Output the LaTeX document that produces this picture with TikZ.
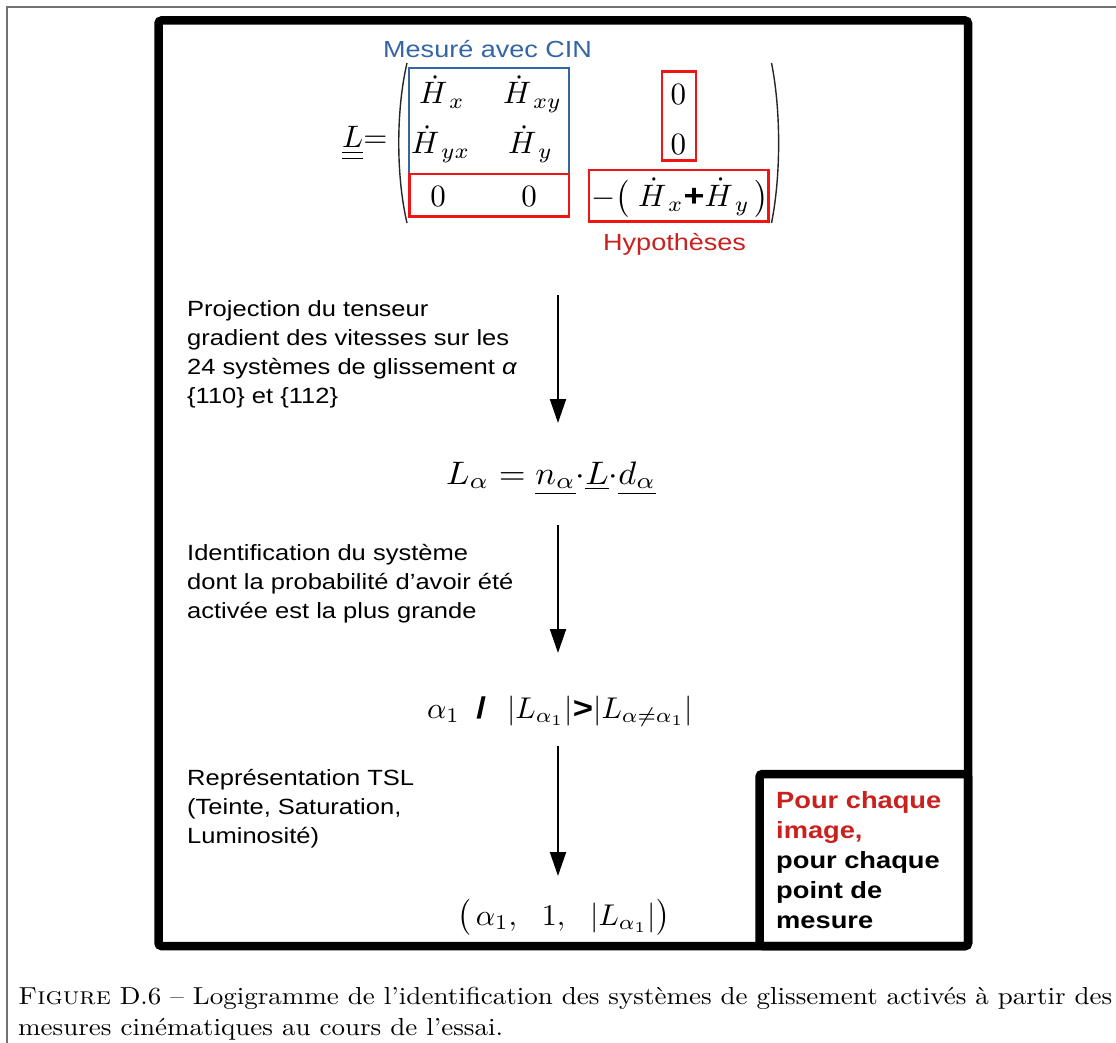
\documentclass[tikz,border=0pt]{standalone}
\usepackage{fontspec}
\usepackage{amsmath}
\usepackage{graphicx}
\usetikzlibrary{arrows.meta}
\newfontfamily\sansf[FakeStretch=1.16]{Liberation Sans}
\definecolor{cinblue}{RGB}{52,101,164}
\definecolor{hypred}{RGB}{201,33,30}
\definecolor{boxred}{RGB}{240,20,20}
\newcommand\txtblock[1]{\begin{tabular}[t]{@{}l@{}}#1\end{tabular}}
\newcommand\bigmath[2][3]{\scalebox{#1}{#2}}
\tikzset{
  frame/.style={line width=8.5pt, rounded corners=3pt},
  sidetext/.style={anchor=base west, inner sep=0pt, font=\sansf\fontsize{22}{29}\selectfont},
  mathtxt/.style={inner sep=0pt, font=\fontsize{10}{12}\selectfont},
  bluebox/.style={draw=cinblue, line width=2pt},
  redbox/.style={draw=boxred, line width=2.4pt},
  arr/.style={line width=2pt, -{Triangle[length=24pt,width=16pt]}},
  paren/.style={line width=1.4pt, black!85}
}
\begin{document}
\begin{tikzpicture}[x=1pt,y=-1pt]
\useasboundingbox (0,0) rectangle (1116,1043);
\fill[white] (0,0) rectangle (1116,1043);
% outer thin frame
\draw[black!55, line width=1.5pt] (7,1043) -- (7,7) -- (1116,7);
% main frame and corner box
\draw[frame] (158.5,20.5) rectangle (968,946);
\draw[frame] (759.5,774) rectangle (968,946);
\node[anchor=base west, inner sep=0pt, font=\sansf\bfseries\fontsize{23.5}{30}\selectfont] (pour) at (776,808)
  {\txtblock{\textcolor{hypred}{Pour chaque}\\ \textcolor{hypred}{image,}\\ pour chaque\\ point de\\ mesure}};

% matrix annotations
\node[anchor=base west, inner sep=0pt, text=cinblue, font=\sansf\fontsize{23.3}{28}\selectfont] (cin) at (383,58) {Mesuré avec CIN};
\node[anchor=base west, inner sep=0pt, text=hypred, font=\sansf\fontsize{23.3}{28}\selectfont] (hyp) at (603,250) {Hypothèses};
\draw[bluebox] (409.3,67.7) rectangle (568.7,174);
\draw[redbox] (409.3,174) rectangle (568.7,216.7);
\draw[redbox] (661.7,71.7) rectangle (696,160.7);
\draw[redbox] (589,170) rectangle (768.3,221.7);
% parentheses
\draw[paren] (407,63) .. controls (396,110) and (396,176) .. (407,223);
\draw[paren] (771.5,63) .. controls (781,110) and (781,176) .. (771.5,223);
% matrix
\node[mathtxt, anchor=base west] (Lmat) at (342,148) {\bigmath[3.1]{${\underline{\underline{L}}}{=}$}};
\node[mathtxt, anchor=base west] (m11) at (419,104) {\bigmath[3.1]{$\dot H_{\,x}$}};
\node[mathtxt, anchor=base west] (m12) at (503,104) {\bigmath[3.1]{$\dot H_{\,xy}$}};
\node[mathtxt, anchor=base west] (m21) at (411,154) {\bigmath[3.1]{$\dot H_{\,yx}$}};
\node[mathtxt, anchor=base west] (m22) at (508,154) {\bigmath[3.1]{$\dot H_{\,y}$}};
\node[mathtxt, anchor=base] (m31) at (438,206.5) {\bigmath[3.1]{$0$}};
\node[mathtxt, anchor=base] (m32) at (529,206.5) {\bigmath[3.1]{$0$}};
\node[mathtxt, anchor=base] (m13) at (678.3,105) {\bigmath[3.1]{$0$}};
\node[mathtxt, anchor=base] (m23) at (678.3,155) {\bigmath[3.1]{$0$}};
\node[mathtxt, anchor=base west] (m33) at (591,206.5) {\bigmath[3.1]{$-\bigl(\;\dot H_{\,x}\text{\sansf\bfseries +}\dot H_{\,y}\,\bigr)$}};

% step texts
\node[sidetext] (t1) at (187,316) {\txtblock{Projection du tenseur\\ gradient des vitesses sur les\\ 24 systèmes de glissement \textit{α}\\ \{110\} et \{112\}}};
\node[sidetext] (t2) at (187,560.5) {\txtblock{Identification du système\\ dont la probabilité d’avoir été\\ activée est la plus grande}};
\node[sidetext] (t3) at (187,785.5) {\txtblock{Représentation TSL\\ (Teinte, Saturation,\\ Luminosité)}};

% formulas
\node[mathtxt, anchor=base west] (f2) at (446,484) {\scalebox{3.45}[3.25]{$L_\alpha = \underline{n_\alpha}{\cdot}\underline{L}{\cdot}\underline{d_\alpha}$}};
\node[mathtxt, anchor=base west] (f3) at (427,718) {\bigmath{$\alpha_1$\hspace{5.5pt}{\sansf\bfseries /}\hspace{7pt}$|L_{\alpha_1}|${\sansf\bfseries >}$|L_{\alpha\neq\alpha_1}|$}};
\node[mathtxt, anchor=base west] (f4) at (457,925) {\bigmath{$\bigl(\,\alpha_1,\ \ 1,\ \ |L_{\alpha_1}|\bigr)$}};

% arrows
\coordinate (a1s) at (558,295); \coordinate (a1e) at (558,423);
\coordinate (a2s) at (558,525); \coordinate (a2e) at (558,653);
\coordinate (a3s) at (558,746); \coordinate (a3e) at (558,876);
\draw[arr] (a1s) -- (a1e);
\draw[arr] (a2s) -- (a2e);
\draw[arr] (a3s) -- (a3e);

% caption
\node[anchor=north west, inner sep=0pt] (cap) at (18,983)
  {\resizebox{1094pt}{!}{\scalebox{1.1}[1]{\fontsize{10}{12.6}\selectfont\begin{tabular}{@{}l@{}}\textsc{Figure} D.6 – Logigramme de l’identification des systèmes de glissement activés à partir des\\ mesures cinématiques au cours de l’essai.\end{tabular}}}};
\end{tikzpicture}
\end{document}
